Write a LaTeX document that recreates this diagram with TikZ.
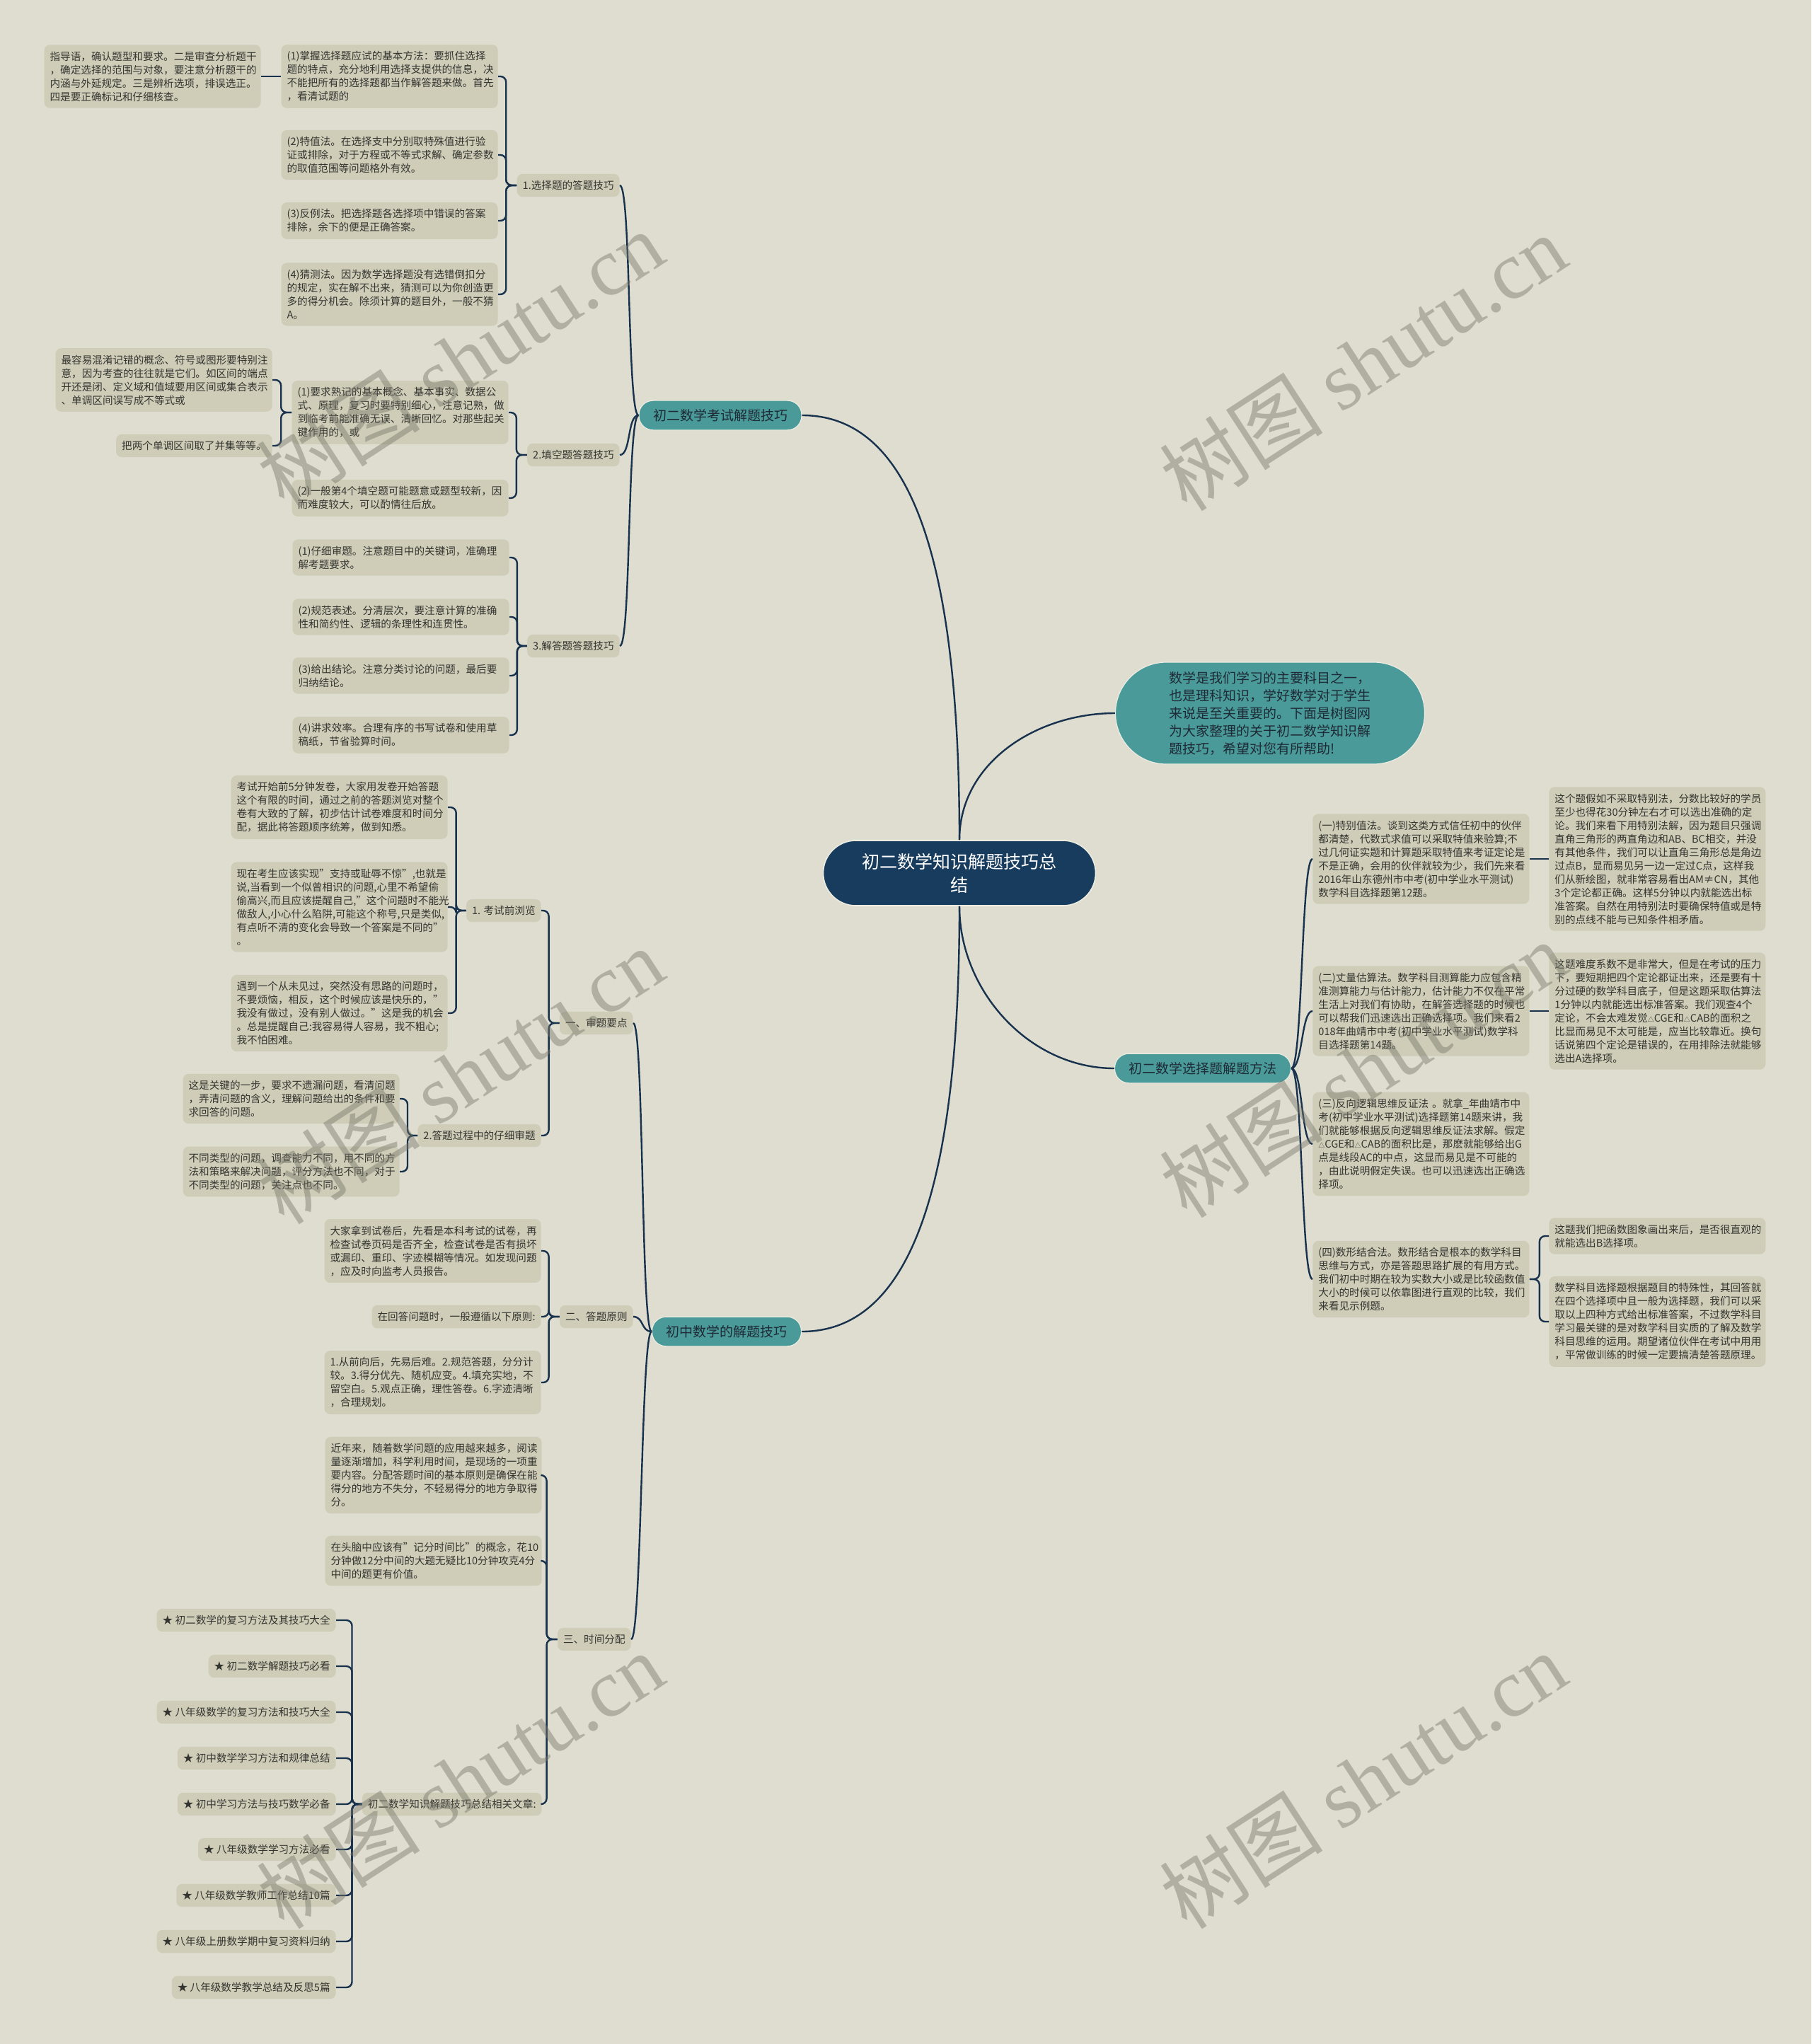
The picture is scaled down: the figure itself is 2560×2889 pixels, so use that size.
\documentclass[tikz,border=0pt]{standalone}
\usepackage{fontspec}
\setmainfont{Noto Sans CJK SC}
\newfontfamily\wmlatin{Liberation Serif}

\definecolor{bgcol}{RGB}{222,221,207}
\definecolor{boxcol}{RGB}{207,205,184}
\definecolor{inkcol}{RGB}{52,52,48}
\definecolor{linecol}{RGB}{24,50,78}
\definecolor{tealcol}{RGB}{74,154,154}
\definecolor{navycol}{RGB}{24,60,94}
\definecolor{rimcol}{RGB}{236,236,226}
\definecolor{branchink}{RGB}{30,42,54}
\definecolor{wmcol}{RGB}{120,120,108}

\newcommand{\tri}{{\fontsize{4.5}{4.5}\selectfont △}}

\begin{document}
\begin{tikzpicture}[x=0.5pt,y=-0.5pt,
	leafbox/.style={fill=boxcol,rounded corners=4pt,text width=145pt,align=left,inner xsep=4pt,inner ysep=4.7pt,font=\fontsize{7.3}{9.5}\selectfont,text=inkcol},
	tagbox/.style={fill=boxcol,rounded corners=4pt,align=left,inner xsep=4pt,inner ysep=4.7pt,font=\fontsize{7.3}{9.5}\selectfont,text=inkcol},
	branchbox/.style={fill=tealcol,draw=rimcol,line width=0.6pt,rounded corners=10pt,inner xsep=10pt,inner ysep=6pt,font=\fontsize{9.5}{11}\selectfont,text=branchink},
	wire/.style={draw=linecol,line width=1.2pt,rounded corners=4pt},
	wmark/.style={rotate=33,text=wmcol,opacity=0.45,font=\fontsize{58}{58}\selectfont}
	]

	\fill[bgcol] (0,0) rectangle (2560,2889);
	\useasboundingbox (0,0) rectangle (2560,2889);

	% centre and first level
	\node[fill=navycol,draw=rimcol,line width=0.8pt,rounded corners=23pt,minimum width=192.5pt,minimum height=46pt,text width=140pt,align=center,text=white,font=\fontsize{12.5}{16.5}\selectfont] (root) at (1356,1234) {初二数学知识解题技巧总\\结};

	\node[branchbox] (ka) at (1018,587) {初二数学考试解题技巧};
	\node[fill=tealcol,draw=rimcol,line width=0.6pt,rounded corners=36pt,minimum width=218.5pt,minimum height=72pt,text width=143pt,align=left,text=branchink,font=\fontsize{9.5}{12.5}\selectfont] (sum) at (1795,1008) {数学是我们学习的主要科目之一，\\也是理科知识，学好数学对于学生\\来说是至关重要的。下面是树图网\\为大家整理的关于初二数学知识解\\题技巧，希望对您有所帮助!};
	\node[branchbox] (kb) at (1700,1510) {初二数学选择题解题方法};
	\node[branchbox] (kc) at (1027,1882) {初中数学的解题技巧};

	\draw[wire] (root.north) .. controls +(0,-388) and +(157,0) .. (ka.east);
	\draw[wire] (root.north) .. controls +(0,-110) and +(-110,0) .. (sum.west);
	\draw[wire] (root.south) .. controls +(0,120) and +(-120,0) .. (kb.west);
	\draw[wire] (root.south) .. controls +(0,388) and +(157,0) .. (kc.east);

	% 初二数学考试解题技巧
	\node[tagbox,anchor=east] (a1) at (876,262) {1.选择题的答题技巧};
	\node[tagbox,anchor=east] (a2) at (876,643) {2.填空题答题技巧};
	\node[tagbox,anchor=east] (a3) at (876,913) {3.解答题答题技巧};

	\draw[wire] (ka.west) .. controls +(-16,0) and +(16,0) .. (a1.east);
	\draw[wire] (ka.west) .. controls +(-16,0) and +(16,0) .. (a2.east);
	\draw[wire] (ka.west) .. controls +(-16,0) and +(16,0) .. (a3.east);

	\node[leafbox,anchor=east] (a1a) at (704,108) {(1)掌握选择题应试的基本方法：要抓住选择\\题的特点，充分地利用选择支提供的信息，决\\不能把所有的选择题都当作解答题来做。首先\\，看清试题的};
	\node[leafbox,anchor=east] (a1b) at (704,219) {(2)特值法。在选择支中分别取特殊值进行验\\证或排除，对于方程或不等式求解、确定参数\\的取值范围等问题格外有效。};
	\node[leafbox,anchor=east] (a1c) at (704,312) {(3)反例法。把选择题各选择项中错误的答案\\排除，余下的便是正确答案。};
	\node[leafbox,anchor=east] (a1d) at (704,416) {(4)猜测法。因为数学选择题没有选错倒扣分\\的规定，实在解不出来，猜测可以为你创造更\\多的得分机会。除须计算的题目外，一般不猜\\A。};
	\node[leafbox,anchor=east] (a1e) at (369,108) {指导语，确认题型和要求。二是审查分析题干\\，确定选择的范围与对象，要注意分析题干的\\内涵与外延规定。三是辨析选项，排误选正。\\四是要正确标记和仔细核查。};

	\draw[wire] (a1.west) -- ++(-15,0) |- (a1a.east);
	\draw[wire] (a1.west) -- ++(-15,0) |- (a1b.east);
	\draw[wire] (a1.west) -- ++(-15,0) |- (a1c.east);
	\draw[wire] (a1.west) -- ++(-15,0) |- (a1d.east);
	\draw[wire] (a1a.west) -- (a1e.east);

	\node[leafbox,anchor=east] (a2a) at (719,583) {(1)要求熟记的基本概念、基本事实、数据公\\式、原理，复习时要特别细心，注意记熟，做\\到临考前能准确无误、清晰回忆。对那些起关\\键作用的，或};
	\node[leafbox,anchor=east] (a2b) at (719,704) {(2)一般第4个填空题可能题意或题型较新，因\\而难度较大，可以酌情往后放。};
	\node[leafbox,anchor=east] (a2c) at (385,537) {最容易混淆记错的概念、符号或图形要特别注\\意，因为考查的往往就是它们。如区间的端点\\开还是闭、定义域和值域要用区间或集合表示\\、单调区间误写成不等式或};
	\node[tagbox,anchor=east] (a2d) at (385,630) {把两个单调区间取了并集等等。};

	\draw[wire] (a2.west) -- ++(-15,0) |- (a2a.east);
	\draw[wire] (a2.west) -- ++(-15,0) |- (a2b.east);
	\draw[wire] (a2a.west) -- ++(-15,0) |- (a2c.east);
	\draw[wire] (a2a.west) -- ++(-15,0) |- (a2d.east);

	\node[leafbox,anchor=east] (a3a) at (720,788) {(1)仔细审题。注意题目中的关键词，准确理\\解考题要求。};
	\node[leafbox,anchor=east] (a3b) at (720,872) {(2)规范表述。分清层次，要注意计算的准确\\性和简约性、逻辑的条理性和连贯性。};
	\node[leafbox,anchor=east] (a3c) at (720,955) {(3)给出结论。注意分类讨论的问题，最后要\\归纳结论。};
	\node[leafbox,anchor=east] (a3d) at (720,1039) {(4)讲求效率。合理有序的书写试卷和使用草\\稿纸，节省验算时间。};

	\draw[wire] (a3.west) -- ++(-14,0) |- (a3a.east);
	\draw[wire] (a3.west) -- ++(-14,0) |- (a3b.east);
	\draw[wire] (a3.west) -- ++(-14,0) |- (a3c.east);
	\draw[wire] (a3.west) -- ++(-14,0) |- (a3d.east);

	% 初二数学选择题解题方法
	\node[leafbox,anchor=west] (b1) at (1855,1214) {(一)特别值法。谈到这类方式信任初中的伙伴\\都清楚，代数式求值可以采取特值来验算;不\\过几何证实题和计算题采取特值来考证定论是\\不是正确，会用的伙伴就较为少，我们先来看\\2016年山东德州市中考(初中学业水平测试)\\数学科目选择题第12题。};
	\node[leafbox,anchor=west] (b2) at (1855,1429) {(二)丈量估算法。数学科目测算能力应包含精\\准测算能力与估计能力，估计能力不仅在平常\\生活上对我们有协助，在解答选择题的时候也\\可以帮我们迅速选出正确选择项。我们来看2\\018年曲靖市中考(初中学业水平测试)数学科\\目选择题第14题。};
	\node[leafbox,anchor=west] (b3) at (1855,1617) {(三)反向逻辑思维反证法 。就拿\_年曲靖市中\\考(初中学业水平测试)选择题第14题来讲，我\\们就能够根据反向逻辑思维反证法求解。假定\\\tri CGE和\tri CAB的面积比是，那麽就能够给出G\\点是线段AC的中点，这显而易见是不可能的\\，由此说明假定失误。也可以迅速选出正确选\\择项。};
	\node[leafbox,anchor=west] (b4) at (1855,1808) {(四)数形结合法。数形结合是根本的数学科目\\思维与方式，亦是答题思路扩展的有用方式。\\我们初中时期在较为实数大小或是比较函数值\\大小的时候可以依靠图进行直观的比较，我们\\来看见示例题。};

	\draw[wire] (kb.east) .. controls +(16,0) and +(-16,0) .. (b1.west);
	\draw[wire] (kb.east) .. controls +(16,0) and +(-16,0) .. (b2.west);
	\draw[wire] (kb.east) .. controls +(16,0) and +(-16,0) .. (b3.west);
	\draw[wire] (kb.east) .. controls +(16,0) and +(-16,0) .. (b4.west);

	\node[leafbox,anchor=west] (b1a) at (2189,1214) {这个题假如不采取特别法，分数比较好的学员\\至少也得花30分钟左右才可以选出准确的定\\论。我们来看下用特别法解，因为题目只强调\\直角三角形的两直角边和AB、BC相交，并没\\有其他条件，我们可以让直角三角形总是角边\\过点B，显而易见另一边一定过C点，这样我\\们从新绘图，就非常容易看出AM≠CN，其他\\3个定论都正确。这样5分钟以内就能选出标\\准答案。自然在用特别法时要确保特值或是特\\别的点线不能与已知条件相矛盾。};
	\node[leafbox,anchor=west] (b2a) at (2189,1429) {这题难度系数不是非常大，但是在考试的压力\\下，要短期把四个定论都证出来，还是要有十\\分过硬的数学科目底子，但是这题采取估算法\\1分钟以内就能选出标准答案。我们观查4个\\定论，不会太难发觉\tri CGE和\tri CAB的面积之\\比显而易见不太可能是，应当比较靠近。换句\\话说第四个定论是错误的，在用排除法就能够\\选出A选择项。};
	\node[leafbox,anchor=west] (b4a) at (2189,1747) {这题我们把函数图象画出来后，是否很直观的\\就能选出B选择项。};
	\node[leafbox,anchor=west] (b4b) at (2189,1868) {数学科目选择题根据题目的特殊性，其回答就\\在四个选择项中且一般为选择题，我们可以采\\取以上四种方式给出标准答案，不过数学科目\\学习最关键的是对数学科目实质的了解及数学\\科目思维的运用。期望诸位伙伴在考试中用用\\，平常做训练的时候一定要搞清楚答题原理。};

	\draw[wire] (b1.east) -- (b1a.west);
	\draw[wire] (b2.east) -- (b2a.west);
	\draw[wire] (b4.east) -- ++(14,0) |- (b4a.west);
	\draw[wire] (b4.east) -- ++(14,0) |- (b4b.west);

	% 初中数学的解题技巧
	\node[tagbox,anchor=east] (c1) at (895,1446) {一、审题要点};
	\node[tagbox,anchor=east] (c2) at (895,1861) {二、答题原则};
	\node[tagbox,anchor=east] (c3) at (892,2317) {三、时间分配};

	\draw[wire] (kc.west) .. controls +(-15,0) and +(15,0) .. (c1.east);
	\draw[wire] (kc.west) .. controls +(-15,0) and +(15,0) .. (c2.east);
	\draw[wire] (kc.west) .. controls +(-15,0) and +(15,0) .. (c3.east);

	\node[tagbox,anchor=east] (c1a) at (765,1287) {1. 考试前浏览};
	\node[tagbox,anchor=east] (c1b) at (765,1605) {2.答题过程中的仔细审题};

	\draw[wire] (c1.west) -- ++(-15,0) |- (c1a.east);
	\draw[wire] (c1.west) -- ++(-15,0) |- (c1b.east);

	\node[leafbox,anchor=east] (c1a1) at (633,1141) {考试开始前5分钟发卷，大家用发卷开始答题\\这个有限的时间，通过之前的答题浏览对整个\\卷有大致的了解，初步估计试卷难度和时间分\\配，据此将答题顺序统筹，做到知悉。};
	\node[leafbox,anchor=east] (c1a2) at (633,1282) {现在考生应该实现"支持或耻辱不惊",也就是\\说,当看到一个似曾相识的问题,心里不希望偷\\偷高兴,而且应该提醒自己,"这个问题时不能光\\做敌人,小心什么陷阱,可能这个称号,只是类似,\\有点听不清的变化会导致一个答案是不同的"\\。};
	\node[leafbox,anchor=east] (c1a3) at (633,1432) {遇到一个从未见过，突然没有思路的问题时，\\不要烦恼，相反，这个时候应该是快乐的，"\\我没有做过，没有别人做过。"这是我的机会\\。总是提醒自己:我容易得人容易，我不粗心;\\我不怕困难。};

	\draw[wire] (c1a.west) -- ++(-14,0) |- (c1a1.east);
	\draw[wire] (c1a.west) -- ++(-14,0) |- (c1a2.east);
	\draw[wire] (c1a.west) -- ++(-14,0) |- (c1a3.east);

	\node[leafbox,anchor=east] (c1b1) at (565,1553) {这是关键的一步，要求不遗漏问题，看清问题\\，弄清问题的含义，理解问题给出的条件和要\\求回答的问题。};
	\node[leafbox,anchor=east] (c1b2) at (565,1656) {不同类型的问题，调查能力不同，用不同的方\\法和策略来解决问题，评分方法也不同，对于\\不同类型的问题，关注点也不同。};

	\draw[wire] (c1b.west) -- ++(-14,0) |- (c1b1.east);
	\draw[wire] (c1b.west) -- ++(-14,0) |- (c1b2.east);

	\node[leafbox,anchor=east] (c2a) at (765,1768) {大家拿到试卷后，先看是本科考试的试卷，再\\检查试卷页码是否齐全，检查试卷是否有损坏\\或漏印、重印、字迹模糊等情况。如发现问题\\，应及时向监考人员报告。};
	\node[tagbox,anchor=east] (c2b) at (765,1861) {在回答问题时，一般遵循以下原则:};
	\node[leafbox,anchor=east] (c2c) at (765,1954) {1.从前向后，先易后难。2.规范答题，分分计\\较。3.得分优先、随机应变。4.填充实地，不\\留空白。5.观点正确，理性答卷。6.字迹清晰\\，合理规划。};

	\draw[wire] (c2.west) -- ++(-15,0) |- (c2a.east);
	\draw[wire] (c2.west) -- ++(-15,0) |- (c2b.east);
	\draw[wire] (c2.west) -- ++(-15,0) |- (c2c.east);

	\node[leafbox,anchor=east] (c3a) at (766,2085) {近年来，随着数学问题的应用越来越多，阅读\\量逐渐增加，科学利用时间，是现场的一项重\\要内容。分配答题时间的基本原则是确保在能\\得分的地方不失分，不轻易得分的地方争取得\\分。};
	\node[leafbox,anchor=east] (c3b) at (766,2206) {在头脑中应该有"记分时间比"的概念，花10\\分钟做12分中间的大题无疑比10分钟攻克4分\\中间的题更有价值。};
	\node[tagbox,anchor=east] (c3c) at (766,2550) {初二数学知识解题技巧总结相关文章:};

	\draw[wire] (c3.west) -- ++(-15,0) |- (c3a.east);
	\draw[wire] (c3.west) -- ++(-15,0) |- (c3b.east);
	\draw[wire] (c3.west) -- ++(-15,0) |- (c3c.east);

	% related articles
	\node[tagbox,anchor=east] (r1) at (475,2290) {★ 初二数学的复习方法及其技巧大全};
	\node[tagbox,anchor=east] (r2) at (475,2355) {★ 初二数学解题技巧必看};
	\node[tagbox,anchor=east] (r3) at (475,2420) {★ 八年级数学的复习方法和技巧大全};
	\node[tagbox,anchor=east] (r4) at (475,2485) {★ 初中数学学习方法和规律总结};
	\node[tagbox,anchor=east] (r5) at (475,2550) {★ 初中学习方法与技巧数学必备};
	\node[tagbox,anchor=east] (r6) at (475,2614) {★ 八年级数学学习方法必看};
	\node[tagbox,anchor=east] (r7) at (475,2679) {★ 八年级数学教师工作总结10篇};
	\node[tagbox,anchor=east] (r8) at (475,2744) {★ 八年级上册数学期中复习资料归纳};
	\node[tagbox,anchor=east] (r9) at (475,2809) {★ 八年级数学教学总结及反思5篇};

	\draw[wire] (c3c.west) -- ++(-14,0) |- (r1.east);
	\draw[wire] (c3c.west) -- ++(-14,0) |- (r2.east);
	\draw[wire] (c3c.west) -- ++(-14,0) |- (r3.east);
	\draw[wire] (c3c.west) -- ++(-14,0) |- (r4.east);
	\draw[wire] (c3c.west) -- ++(-14,0) |- (r5.east);
	\draw[wire] (c3c.west) -- ++(-14,0) |- (r6.east);
	\draw[wire] (c3c.west) -- ++(-14,0) |- (r7.east);
	\draw[wire] (c3c.west) -- ++(-14,0) |- (r8.east);
	\draw[wire] (c3c.west) -- ++(-14,0) |- (r9.east);

	% watermark
	\node[wmark] (wm1) at (650,507) {树图 {\wmlatin shutu.cn}};
	\node[wmark] (wm2) at (1926,512) {树图 {\wmlatin shutu.cn}};
	\node[wmark] (wm3) at (650,1520) {树图 {\wmlatin shutu.cn}};
	\node[wmark] (wm4) at (1926,1511) {树图 {\wmlatin shutu.cn}};
	\node[wmark] (wm5) at (650,2516) {树图 {\wmlatin shutu.cn}};
	\node[wmark] (wm6) at (1926,2516) {树图 {\wmlatin shutu.cn}};

\end{tikzpicture}
\end{document}
